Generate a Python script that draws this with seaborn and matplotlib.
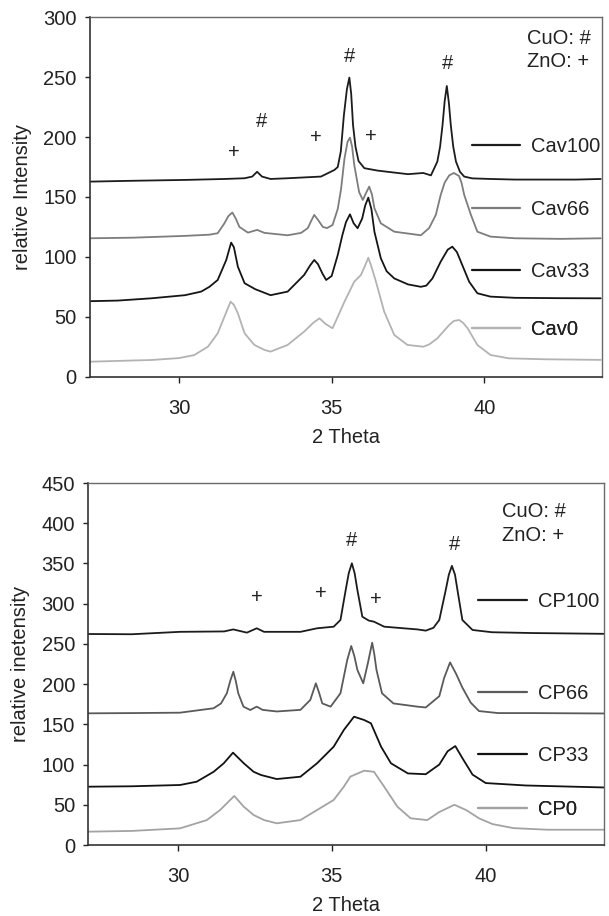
import matplotlib
matplotlib.use("Agg")
import matplotlib.pyplot as plt
from matplotlib.lines import Line2D
import seaborn as sns
import pandas as pd

# ---------------- data ----------------
# Top panel (Cav series)
cav100_x = [27.1, 28.5, 30.2, 31.5, 32.15, 32.4, 32.56, 32.72, 33.0, 33.56, 34.65, 35.09, 35.2, 35.3, 35.4,
            35.5, 35.58, 35.64, 35.7, 35.78, 35.88, 36.07, 36.5, 36.83, 37.5, 38.0, 38.25, 38.46, 38.55,
            38.63, 38.7, 38.77, 38.84, 38.9, 38.98, 39.07, 39.2, 39.34, 39.6, 40.2, 41.0, 42.0, 43.0, 43.81]
cav100_y = [162.8, 163.5, 164.2, 165.0, 165.6, 167.0, 171.0, 167.0, 165.0, 165.6, 167.0, 172.5, 175.0, 188.0, 218.0,
            240.0, 249.6, 236.0, 210.0, 192.0, 180.0, 174.0, 172.0, 171.0, 169.0, 170.0, 168.0, 179.5, 192.0,
            210.0, 230.0, 242.6, 228.0, 210.0, 192.0, 179.5, 171.0, 167.0, 165.5, 165.0, 164.5, 164.5, 164.5, 165.0]

cav66_x = [27.1, 28.5, 30.2, 31.0, 31.27, 31.49, 31.62, 31.75, 31.86, 31.98, 32.26, 32.56, 32.8, 33.56, 34.0,
           34.22, 34.33, 34.43, 34.55, 34.71, 34.85, 35.03, 35.2, 35.31, 35.42, 35.52, 35.6, 35.67, 35.74,
           35.9, 36.02, 36.12, 36.23, 36.32, 36.4, 36.61, 37.05, 37.92, 38.19, 38.41, 38.57, 38.7, 38.85,
           39.0, 39.17, 39.25, 39.34, 39.56, 39.77, 40.2, 41.0, 42.5, 43.81]
cav66_y = [115.5, 116.0, 117.5, 118.5, 119.7, 128.0, 134.0, 137.0, 132.0, 125.0, 120.2, 122.5, 120.0, 118.0, 120.0,
           124.0, 130.0, 135.0, 131.0, 125.0, 124.0, 126.6, 140.0, 157.0, 182.0, 196.0, 199.5, 192.0, 176.7,
           154.0, 147.5, 153.0, 158.6, 152.0, 140.6, 128.0, 121.0, 118.0, 124.0, 135.0, 151.7, 162.0, 168.0,
           170.0, 167.5, 162.0, 151.7, 135.0, 121.0, 116.9, 115.5, 115.0, 115.5]

cav33_x = [27.1, 28.0, 29.1, 30.2, 30.73, 31.0, 31.27, 31.55, 31.71, 31.8, 31.93, 32.15, 32.5, 33.0, 33.56,
           34.1, 34.3, 34.43, 34.55, 34.7, 34.82, 35.0, 35.2, 35.35, 35.47, 35.6, 35.72, 35.85, 36.0, 36.1,
           36.2, 36.3, 36.4, 36.61, 36.8, 37.05, 37.5, 37.92, 38.1, 38.3, 38.57, 38.8, 38.95, 39.1, 39.23,
           39.5, 39.77, 40.2, 41.0, 42.5, 43.81]
cav33_y = [63.0, 63.5, 65.4, 68.0, 71.0, 75.0, 80.7, 97.4, 111.9, 108.0, 91.8, 78.0, 73.0, 68.0, 71.0,
           84.9, 93.0, 97.4, 94.0, 86.0, 80.7, 84.0, 101.6, 118.0, 129.0, 135.5, 128.0, 123.9, 132.0, 143.0,
           149.4, 140.0, 121.0, 98.8, 88.0, 82.0, 77.0, 75.0, 76.0, 82.0, 96.0, 106.0, 108.5, 104.0, 96.0,
           79.3, 69.6, 66.8, 65.8, 65.5, 65.4]

cav0_x = [27.1, 28.5, 29.1, 30.0, 30.5, 30.95, 31.27, 31.49, 31.69, 31.8, 31.93, 32.15, 32.47, 32.8, 33.0,
          33.56, 34.1, 34.4, 34.6, 34.8, 35.03, 35.2, 35.42, 35.74, 35.96, 36.1, 36.2, 36.3, 36.45, 36.72,
          37.05, 37.48, 38.0, 38.2, 38.46, 38.85, 39.0, 39.17, 39.3, 39.45, 39.77, 40.2, 40.8, 42.0, 43.81]
cav0_y = [12.5, 13.5, 13.9, 15.5, 18.0, 25.0, 36.2, 50.0, 62.6, 60.0, 52.9, 36.2, 26.5, 22.3, 20.9,
          26.5, 37.6, 45.0, 48.7, 44.0, 40.4, 50.0, 62.6, 79.3, 84.9, 93.0, 99.3, 92.0, 79.3, 54.3,
          34.8, 26.5, 25.0, 27.0, 32.0, 43.2, 46.5, 47.3, 45.0, 40.4, 26.5, 18.1, 15.3, 14.5, 14.0]

# Bottom panel (CP series)
cp100_x = [27.1, 28.5, 30.07, 31.5, 31.8, 32.24, 32.56, 32.8, 33.21, 33.98, 34.52, 35.06, 35.28, 35.45, 35.55,
           35.65, 35.74, 35.83, 35.99, 36.2, 36.37, 36.7, 37.78, 38.05, 38.3, 38.49, 38.7, 38.8, 38.9, 39.0,
           39.08, 39.24, 39.57, 40.2, 41.5, 43.88]
cp100_y = [262.3, 262.0, 265.0, 265.5, 268.0, 264.0, 269.4, 265.0, 265.0, 265.0, 269.4, 271.4, 279.7, 317.0, 338.0,
           350.2, 338.0, 317.0, 283.8, 279.0, 277.6, 271.4, 268.0, 266.5, 270.0, 279.7, 317.0, 336.0, 347.0, 336.0,
           317.0, 279.7, 267.3, 264.5, 263.5, 262.5]

cp66_x = [27.1, 28.5, 30.07, 31.16, 31.4, 31.59, 31.7, 31.8, 31.88, 31.96, 32.13, 32.35, 32.56, 32.75, 33.21,
          33.98, 34.3, 34.48, 34.58, 34.69, 34.96, 35.28, 35.5, 35.63, 35.73, 35.83, 36.02, 36.17, 36.31,
          36.38, 36.45, 36.63, 37.0, 37.78, 38.05, 38.49, 38.65, 38.84, 39.04, 39.24, 39.51, 39.78, 40.4,
          41.5, 43.88]
cp66_y = [163.7, 164.0, 164.5, 170.0, 176.0, 188.6, 204.0, 215.4, 204.0, 188.6, 172.0, 167.8, 172.0, 168.0, 166.0,
          168.0, 180.3, 201.0, 190.0, 176.0, 172.0, 188.6, 230.0, 247.4, 235.0, 217.6, 201.0, 226.0, 251.5,
          237.0, 217.6, 188.6, 176.0, 172.0, 171.0, 185.0, 208.0, 227.0, 212.5, 195.7, 177.0, 166.5, 164.0,
          164.0, 163.5]

cp33_x = [27.1, 28.5, 30.07, 30.61, 31.16, 31.49, 31.79, 32.14, 32.46, 32.7, 33.21, 33.98, 34.52, 35.06, 35.39,
          35.72, 36.05, 36.27, 36.6, 36.92, 37.47, 38.05, 38.49, 38.76, 39.01, 39.24, 39.57, 40.0, 41.3, 43.88]
cp33_y = [72.5, 73.0, 74.6, 78.7, 91.0, 101.6, 114.8, 101.6, 91.0, 87.0, 82.0, 84.9, 101.6, 122.2, 143.0,
          159.5, 155.4, 151.3, 122.2, 101.6, 89.0, 88.0, 100.0, 116.5, 123.0, 108.0, 87.5, 77.0, 74.0, 71.5]

cp0_x = [27.1, 28.5, 30.07, 30.94, 31.37, 31.83, 32.14, 32.46, 32.8, 33.21, 33.98, 34.52, 35.06, 35.39, 35.6,
         36.05, 36.37, 36.7, 37.13, 37.56, 38.1, 38.49, 38.98, 39.36, 39.79, 40.22, 40.9, 42.0, 43.88]
cp0_y = [16.6, 17.5, 20.7, 31.0, 43.5, 61.0, 47.6, 37.3, 31.0, 27.0, 31.0, 43.5, 56.0, 72.5, 85.0,
         92.4, 91.0, 72.5, 47.6, 33.2, 31.0, 41.0, 50.0, 43.5, 33.0, 26.0, 21.0, 19.0, 19.0]

top_names = ["Cav100", "Cav66", "Cav33", "Cav0"]
bot_names = ["CP100", "CP66", "CP33", "CP0"]

# peak annotations: (label, 2theta, intensity)
top_marks = [("+", 31.8, 187), ("#", 32.69, 212.8), ("+", 34.47, 199.5),
             ("#", 35.58, 267), ("+", 36.29, 200.3), ("#", 38.8, 261.6)]
bot_marks = [("+", 32.58, 308), ("+", 34.65, 313), ("#", 35.63, 378),
             ("+", 36.44, 305.4), ("#", 38.97, 373)]

# ---------------- styling ----------------
sns.set_theme(style="white")
plt.rcParams["font.family"] = ["Liberation Sans", "DejaVu Sans"]
FS = 14.5

top_colors = {"Cav100": "#1c1c1c", "Cav66": "#7d7d7d", "Cav33": "#151515", "Cav0": "#b3b3b3"}
bot_colors = {"CP100": "#1c1c1c", "CP66": "#5a5a5a", "CP33": "#121212", "CP0": "#a3a3a3"}


def long_frame(names, xs, ys):
    rows = []
    for n, x, y in zip(names, xs, ys):
        rows.append(pd.DataFrame({"two_theta": x, "intensity": y, "sample": n}))
    return pd.concat(rows, ignore_index=True)


top_df = long_frame(top_names, [cav100_x, cav66_x, cav33_x, cav0_x],
                    [cav100_y, cav66_y, cav33_y, cav0_y])
bot_df = long_frame(bot_names, [cp100_x, cp66_x, cp33_x, cp0_x],
                    [cp100_y, cp66_y, cp33_y, cp0_y])

fig = plt.figure(figsize=(6.09, 9.16), dpi=100)
ax1 = fig.add_axes([0.1478, 0.5888, 0.8407, 0.3924])
ax2 = fig.add_axes([0.1450, 0.0775, 0.8473, 0.3952])


def style_axis(ax, ymax, ylabel):
    ax.set_xlim(27.09, 43.85)
    ax.set_ylim(0, ymax)
    ax.set_xticks([30, 35, 40])
    ax.set_yticks(range(0, ymax + 1, 50))
    ax.tick_params(axis="x", direction="out", length=4, width=1, pad=12, labelsize=FS,
                   colors="#222222", bottom=True)
    ax.tick_params(axis="y", direction="out", length=3.5, width=1, pad=6, labelsize=FS,
                   colors="#222222", left=True)
    for side in ["left", "bottom"]:
        ax.spines[side].set_color("#333333")
        ax.spines[side].set_linewidth(1.2)
    for side in ["top", "right"]:
        ax.spines[side].set_color("#6a6a6a")
        ax.spines[side].set_linewidth(1.0)
    ax.set_xlabel("2 Theta", fontsize=FS, color="#222222", labelpad=7)
    ax.set_ylabel(ylabel, fontsize=FS, color="#222222", labelpad=8)


for ax, df, names, colors, ymax, ylabel, marks in [
    (ax1, top_df, top_names, top_colors, 300, "relative Intensity", top_marks),
    (ax2, bot_df, bot_names, bot_colors, 450, "relative inetensity", bot_marks),
]:
    sns.lineplot(data=df, x="two_theta", y="intensity", hue="sample", hue_order=names,
                 palette=colors, estimator=None, sort=False, legend=False, linewidth=1.3, ax=ax)
    style_axis(ax, ymax, ylabel)
    for lab, x, y in marks:
        ax.text(x, y, lab, ha="center", va="center", fontsize=FS, color="#222222")

# legends placed next to each curve
top_leg_pos = [0.640, 0.464, 0.292, 0.130]
bot_leg_pos = [0.672, 0.419, 0.246, 0.097]


def add_legends(ax, names, colors, ypos, x0):
    for n, y in zip(names, ypos):
        h = [Line2D([], [], color=colors[n], linewidth=1.6)]
        leg = ax.legend(h, [n], loc="center left", bbox_to_anchor=(x0, y), frameon=False,
                        fontsize=FS, handlelength=2.4, handletextpad=0.55, borderpad=0,
                        borderaxespad=0)
        for t in leg.get_texts():
            t.set_color("#222222")
        ax.add_artist(leg)


add_legends(ax1, top_names, top_colors, top_leg_pos, 0.746)
add_legends(ax2, bot_names, bot_colors, bot_leg_pos, 0.756)

# phase key
ax1.text(0.853, 0.9416, "CuO: #", transform=ax1.transAxes, ha="left", va="center",
         fontsize=FS, color="#222222")
ax1.text(0.853, 0.8765, "ZnO: +", transform=ax1.transAxes, ha="left", va="center",
         fontsize=FS, color="#222222")
ax2.text(0.802, 0.9207, "CuO: #", transform=ax2.transAxes, ha="left", va="center",
         fontsize=FS, color="#222222")
ax2.text(0.802, 0.856, "ZnO: +", transform=ax2.transAxes, ha="left", va="center",
         fontsize=FS, color="#222222")

fig.savefig("out.png", dpi=100, facecolor="white")
